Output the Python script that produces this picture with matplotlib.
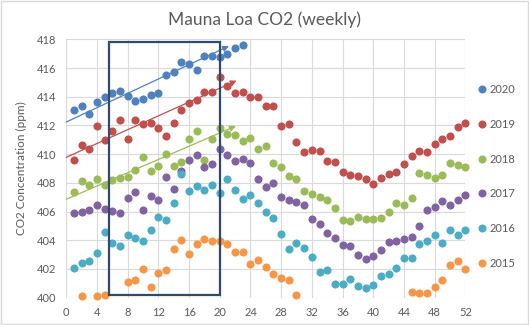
import numpy as np
import matplotlib
matplotlib.use("Agg")
import matplotlib.pyplot as plt
from matplotlib.patches import Rectangle
from matplotlib.lines import Line2D

nan = np.nan
weeks = np.arange(1, 53)

y2020 = [413.06, 413.33, 412.78, 413.61, 413.96, 414.24, 414.38, 414.03, 413.68, 413.82,
         414.10, 414.24, 415.49, 415.70, 416.40, 416.26, 415.84, 416.82, 416.82, 416.75,
         416.96, 417.37, 417.58] + [nan] * 29
y2019 = [409.57, 410.62, 410.34, 411.94, 410.97, 411.60, 412.36, 411.04, 412.36, 412.08,
         412.15, 411.80, 411.25, 412.15, 413.06, 413.54, 413.75, 414.31, 414.31, 415.35,
         414.73, 414.24, 414.31, 413.96, 413.96, 413.33,
         413.33, 411.94, 412.08, 410.83, 410.13, 410.27, 410.20, 409.50, 409.43, 408.74,
         408.53, 408.46, 408.25, 407.90, 408.32, 408.60, 408.74, 409.30, 409.85, 410.20,
         410.13, 410.69, 411.04, 411.25, 411.87, 412.15]
y2018 = [407.35, 408.11, 407.83, 408.25, 407.83, 408.18, 408.32, 408.39, 408.88, 409.78,
         408.81, 409.15, 409.99, 409.20, 409.43, 411.04, 411.60, 409.57, 411.04, 411.80,
         411.38, 411.31, 410.90, 411.10, 410.34, 410.55,
         409.37, 409.09, 408.46, 408.25, 407.41, 407.20, 407.00, 406.79, 406.23, 405.40,
         405.33, 405.60, 405.46, 405.46, 405.53, 405.95, 406.58, 406.44, 406.93, 408.67,
         408.53, 408.32, 408.53, 409.37, 409.23, 409.09]
y2017 = [405.88, 405.95, 406.09, 406.44, 406.16, 406.02, 405.88, 406.93, 407.35, 406.09,
         407.07, 406.79, 408.39, 407.55, 408.85, 409.57, 409.92, 409.09, 409.30, 410.34,
         409.92, 409.50, 409.64, 409.37, 408.25, 407.69,
         407.97, 407.00, 406.79, 406.65, 406.44, 405.46, 405.12, 404.49, 404.14, 403.65,
         403.58, 402.96, 402.68, 402.89, 403.31, 403.86, 403.93, 404.07, 404.21, 404.98,
         406.09, 406.30, 406.72, 406.44, 406.79, 407.14]
y2016 = [402.05, 402.40, 402.54, 403.10, 404.56, 403.79, 403.58, 404.35, 404.14, 403.93,
         404.70, 405.60, 405.40, 406.58, 408.65, 407.41, 407.76, 407.48, 407.83, 407.28,
         408.25, 407.48, 406.86, 407.14, 406.58, 405.95,
         405.53, 404.42, 403.38, 403.79, 403.44, 402.82, 401.77, 401.91, 400.94, 400.94,
         401.29, 400.80, 400.66, 400.87, 401.50, 401.64, 402.05, 402.75, 402.75, 403.72,
         403.93, 404.35, 403.79, 404.70, 404.35, 404.70]
y2015 = [nan, 400.10, nan, 400.10, 400.17, nan, nan, 401.08, 401.22, 401.98,
         400.73, 401.70, 401.91, 403.38, 404.00, 403.03, 403.72, 404.07, 403.93, 403.93,
         403.72, 403.17, 403.17, 402.33, 402.61, 402.12,
         401.64, 401.36, 401.22, 400.17] + [nan] * 14 + [
         400.38, 400.31, 400.31, 400.73, 401.22, 402.26, 402.54, 401.98]

years = ["2020", "2019", "2018", "2017", "2016", "2015"]
series = [y2020, y2019, y2018, y2017, y2016, y2015]
colors = ["#4F81BD", "#C0504D", "#9BBB59", "#8064A2", "#4BACC6", "#F79646"]

# hand-drawn trend arrows (start week, start ppm, end week, end ppm)
trend_years = ["2020", "2019", "2018"]
trend_x0 = [0, 0, 0]
trend_y0 = [412.24, 409.78, 406.86]
trend_x1 = [21.2, 22.2, 22.1]
trend_y1 = [417.53, 415.12, 411.96]

# highlighted window
box_x = [5.57, 20.0]
box_y = [400.19, 417.83]

W, H = 529, 325
fig = plt.figure(figsize=(W / 100, H / 100), dpi=100)
plt.rcParams['font.family'] = ['Lato', 'DejaVu Sans']
txt = "#595959"

ax = fig.add_axes([66.3 / W, 1 - 297.7 / H, (465.3 - 66.3) / W, (297.7 - 39.3) / H])
ax.set_xlim(0, 52)
ax.set_ylim(400, 418)
ax.set_xticks(np.arange(0, 53, 4))
ax.set_yticks(np.arange(400, 419, 2))
ax.grid(True, color="#D9D9D9", lw=0.8)
ax.set_axisbelow(True)
for s in ax.spines.values():
    s.set_visible(False)
ax.tick_params(length=0, labelsize=8, colors=txt, pad=7)

for y, c, lab in zip(series, colors, years):
    ax.scatter(weeks, y, s=34, color=c, label=lab, zorder=3, linewidths=0, clip_on=False)

for ty, x0, y0, x1, y1 in zip(trend_years, trend_x0, trend_y0, trend_x1, trend_y1):
    c = colors[years.index(ty)]
    ax.annotate("", xy=(x1, y1), xytext=(x0, y0),
                arrowprops=dict(arrowstyle="-|>", color=c, lw=0.9,
                                mutation_scale=9, shrinkA=0, shrinkB=0), zorder=4)

ax.add_patch(Rectangle((box_x[0], box_y[0]), box_x[1] - box_x[0], box_y[1] - box_y[0],
                       fill=False, edgecolor="#2F4A6D", lw=1.6, zorder=5))

ax.set_ylabel("CO2 Concentration (ppm)", fontsize=8.5, color=txt, labelpad=7)
fig.text(0.5, 1 - 20 / H, "Mauna Loa CO2 (weekly)", ha="center", va="center",
         fontsize=12.5, color=txt)

handles = [Line2D([], [], ls="", marker="o", markersize=5.8, markeredgewidth=0,
                  color=c) for c in colors]
leg = fig.legend(handles, years, loc="center left",
                 bbox_to_anchor=(469 / W, 1 - 176.5 / H), frameon=False,
                 fontsize=8, labelcolor=txt, labelspacing=2.13,
                 handlelength=0.6, handletextpad=0.35)

fig.add_artist(Rectangle((0.001, 0.002), 0.997, 0.995, transform=fig.transFigure,
                         fill=False, edgecolor="#D9D9D9", lw=1))

fig.savefig("out.png", dpi=100)
